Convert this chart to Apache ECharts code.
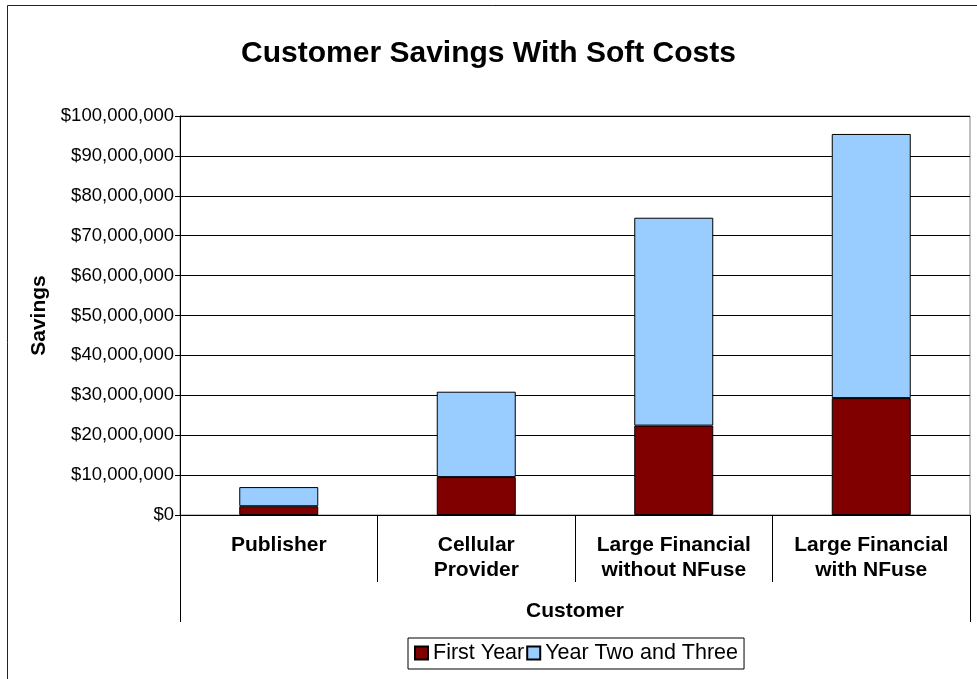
<!DOCTYPE html>
<html>
<head>
<meta charset="utf-8">
<script src="https://cdn.jsdelivr.net/npm/echarts@6/dist/echarts.min.js"></script>
<style>
  html, body { margin: 0; padding: 0; background: #fff; }
  #chart { width: 977px; height: 679px; }
</style>
</head>
<body>
<div id="chart"></div>
<script>
// Customer savings, in dollars, split by period
var categories = ['Publisher', 'Cellular\nProvider', 'Large Financial\nwithout NFuse', 'Large Financial\nwith NFuse'];
var firstYear = [2200000, 9500000, 22400000, 29300000];
var yearTwoAndThree = [4800000, 21400000, 52100000, 66200000];
var seriesNames = ['First Year', 'Year Two and Three'];
var axisGroupLabel = ['Customer'];

var FONT = '"Liberation Sans", Arial, sans-serif';

function dollars(v) {
  var s = String(Math.round(v));
  return '$' + s.replace(/\B(?=(\d{3})+(?!\d))/g, ',');
}

var chart = echarts.init(document.getElementById('chart'), null, { renderer: 'canvas' });

chart.setOption({
  backgroundColor: '#fff',
  animation: false,
  title: {
    text: 'Customer Savings With Soft Costs',
    left: 'center',
    top: 34,
    textStyle: { fontFamily: FONT, fontSize: 30, fontWeight: 'bold', color: '#000' }
  },
  graphic: [{
    type: 'rect',
    shape: { x: 7.5, y: 5.5, width: 980, height: 690 },
    style: { fill: 'none', stroke: '#222', lineWidth: 1 },
    silent: true,
    z: -1
  }],
  legend: {
    left: 408,
    top: 638,
    itemWidth: 13,
    itemHeight: 13,
    itemGap: 2,
    padding: [4, 6, 5, 6],
    borderColor: '#000',
    borderWidth: 1,
    icon: 'rect',
    textStyle: { fontFamily: FONT, fontSize: 21.5, color: '#000' },
    data: seriesNames
  },
  grid: {
    left: 180,
    right: 7,
    top: 116,
    bottom: 164,
    show: true,
    borderColor: '#808080',
    borderWidth: 1
  },
  xAxis: [{
    type: 'category',
    data: categories,
    position: 'bottom',
    axisLine: { lineStyle: { color: '#000', width: 1 } },
    axisTick: { show: true, length: 67, interval: 0, lineStyle: { color: '#000' } },
    axisLabel: {
      interval: 0,
      margin: 18,
      fontFamily: FONT,
      fontSize: 21,
      fontWeight: 'bold',
      lineHeight: 25,
      color: '#000'
    }
  }, {
    type: 'category',
    data: axisGroupLabel,
    position: 'bottom',
    axisLine: { show: false },
    axisTick: { show: true, length: 107, lineStyle: { color: '#000' } },
    axisLabel: {
      margin: 84,
      fontFamily: FONT,
      fontSize: 21,
      fontWeight: 'bold',
      lineHeight: 25,
      color: '#000'
    }
  }],
  yAxis: {
    type: 'value',
    min: 0,
    max: 100000000,
    interval: 10000000,
    name: 'Savings',
    nameLocation: 'middle',
    nameGap: 129,
    nameTextStyle: { fontFamily: FONT, fontSize: 21, fontWeight: 'bold', color: '#000' },
    axisLine: { show: true, lineStyle: { color: '#000' } },
    axisTick: { show: true, length: 5, lineStyle: { color: '#000' } },
    axisLabel: {
      margin: 6,
      fontFamily: FONT,
      fontSize: 18.5,
      color: '#000',
      formatter: dollars
    },
    splitLine: { show: true, lineStyle: { color: '#000', width: 1 } }
  },
  series: [{
    name: seriesNames[0],
    type: 'bar',
    stack: 'savings',
    xAxisIndex: 0,
    barWidth: '40%',
    data: firstYear,
    itemStyle: { color: '#800000', borderColor: '#000', borderWidth: 1 }
  }, {
    name: seriesNames[1],
    type: 'bar',
    stack: 'savings',
    xAxisIndex: 0,
    barWidth: '40%',
    data: yearTwoAndThree,
    itemStyle: { color: '#99CCFF', borderColor: '#000', borderWidth: 1 }
  }]
});
</script>
</body>
</html>
